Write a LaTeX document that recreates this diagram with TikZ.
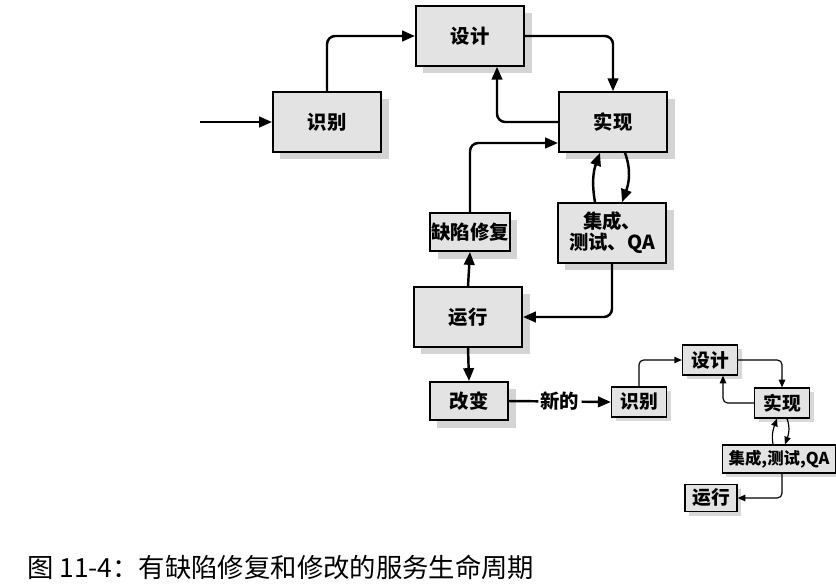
\documentclass[tikz,border=0pt]{standalone}
\usepackage{fontspec}
\newfontfamily\cjk{Noto Sans CJK SC}
\usepackage{tikz}
\usetikzlibrary{positioning, arrows.meta, shadows, calc}
\tikzset{
  stage/.style={
    draw, rectangle, line width=1.4pt,
    minimum width=32.5mm, minimum height=18mm,
    fill=gray!22, font=\cjk\bfseries\fontsize{16.5}{18}\selectfont, align=center,
    drop shadow={shadow xshift=2.2mm, shadow yshift=-2.2mm, fill=gray!60, opacity=.55}
  },
  fixbox/.style={
    stage, minimum width=23.5mm, minimum height=11.5mm, inner sep=1pt
  },
  mini/.style={
    draw, rectangle, line width=1.1pt,
    minimum width=16.5mm, minimum height=9mm, inner sep=1pt,
    fill=gray!22, font=\cjk\bfseries\fontsize{16}{18}\selectfont, align=center,
    drop shadow={shadow xshift=1.2mm, shadow yshift=-1.2mm, fill=gray!60, opacity=.5}
  },
  harr/.style={-{Triangle[length=11pt, width=9pt]}, line width=2.1pt, rounded corners=7pt},
  minarr/.style={-{Triangle[length=6.5pt, width=5.5pt]}, line width=1pt, rounded corners=4pt},
}
\begin{document}
\begin{tikzpicture}[x=0.3mm, y=-0.3mm]
  \useasboundingbox[fill=white] (0,0) rectangle (836,587);
  \node[stage] (shibie)  at (327,122) {识别};
  \node[stage] (sheji)   at (470,36)  {设计};
  \node[stage] (shixian) at (613,122) {实现};
  \node[stage] (jicheng) at (612,233) {集成、\\测试、QA};
  \node[fixbox] (quexian) at (470,232) {缺陷修复};
  \node[stage] (yunxing) at (468,317) {运行};
  \node[fixbox] (gaibian) at (469,401) {改变};
  \coordinate (start) at (200,122);
  \draw[harr] (start) -- (shibie.west);
  \draw[harr] (shibie.north) |- (sheji.west);
  \draw[harr] (sheji.east) -| (shixian.north);
  \draw[harr] (shixian.west) -| ($(sheji.south)+(27,0)$);
  \draw[harr] (quexian.north) |- ($(shixian.west)+(0,21)$);
  \draw[harr] ($(jicheng.north)+(-17,0)$) to[out=100, in=-110] ($(shixian.south)+(-13,0)$);
  \draw[harr] ($(shixian.south)+(12,0)$) to[out=-70, in=70] ($(jicheng.north)+(10,0)$);
  \draw[harr] (jicheng.south) |- (yunxing.east);
  \draw[harr] (yunxing.north) -- (quexian.south);
  \draw[harr] (yunxing.south) -- (gaibian.north);
  \node[mini] (sshibie)  at (639,402) {识别};
  \node[mini] (ssheji)   at (710,360) {设计};
  \node[mini] (sshixian) at (782,403) {实现};
  \node[mini, minimum width=34mm, minimum height=8.4mm, font=\cjk\bfseries\fontsize{14}{16}\selectfont] (sjicheng) at (779,459) {集成,测试,QA};
  \node[mini, minimum width=15.6mm, minimum height=8.1mm] (syunxing) at (711,498) {运行};
  \draw[harr] (gaibian.east) -- node[fill=white, inner sep=2pt, font=\cjk\bfseries\fontsize{16.5}{18}\selectfont] (xinde) {新的} (sshibie.west);
  \draw[minarr] (sshibie.north) |- (ssheji.west);
  \draw[minarr] (ssheji.east) -| (sshixian.north);
  \draw[minarr] (sshixian.west) -| ($(ssheji.south)+(13,0)$);
  \draw[minarr] ($(sjicheng.north)+(-6,0)$) to[out=100, in=-110] ($(sshixian.south)+(-5,0)$);
  \draw[minarr] ($(sshixian.south)+(5,0)$) to[out=-70, in=70] ($(sjicheng.north)+(6,0)$);
  \draw[minarr] ($(sjicheng.south)+(3,0)$) |- (syunxing.east);
  \node[anchor=west, inner sep=0pt, font=\cjk\fontsize{22.5}{26}\selectfont] (caption) at (27,567) {图 11-4：有缺陷修复和修改的服务生命周期};
\end{tikzpicture}
\end{document}
